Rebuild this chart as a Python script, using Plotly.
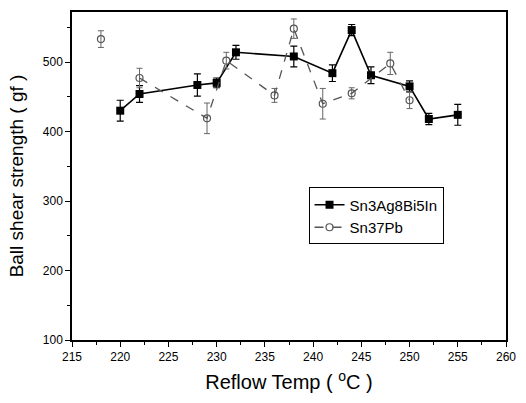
import plotly.graph_objects as go

# Sn3Ag8Bi5In series
sn_temp = [220, 222, 228, 230, 232, 238, 242, 244, 246, 250, 252, 255]
sn_strength = [430, 454, 467, 470, 514, 508, 484, 546, 481, 465, 418, 424]
sn_err = [15, 12, 16, 7, 10, 15, 12, 8, 12, 8, 8, 15]

# Sn37Pb series (None breaks the line after the isolated 218 point)
pb_temp = [218, None, 222, 229, 231, 236, 238, 241, 244, 248, 250]
pb_strength = [533, None, 477, 419, 502, 452, 548, 440, 455, 498, 445]
pb_err = [12, None, 14, 22, 12, 10, 14, 22, 8, 16, 12]

x_ticks = [215, 220, 225, 230, 235, 240, 245, 250, 255, 260]
y_ticks = [100, 200, 300, 400, 500]

FONT = "Arial, Liberation Sans, sans-serif"

fig = go.Figure()

fig.add_trace(go.Scatter(
    x=sn_temp, y=sn_strength, name="Sn3Ag8Bi5In", mode="lines+markers",
    line=dict(color="black", width=1.6),
    marker=dict(symbol="square", size=8, color="black"),
    error_y=dict(type="data", array=sn_err, color="black", thickness=1.2, width=3.5),
))

fig.add_trace(go.Scatter(
    x=pb_temp, y=pb_strength, name="Sn37Pb", mode="lines+markers",
    connectgaps=False,
    line=dict(color="#555555", width=1.3, dash="dash"),
    marker=dict(symbol="circle-open", size=7, color="#555555", line=dict(width=1.2)),
    error_y=dict(type="data", array=[e if e is not None else 0 for e in pb_err],
                 color="#666666", thickness=1, width=3),
))

axis_common = dict(
    showline=True, linecolor="black", linewidth=1.5, mirror=True,
    ticks="outside", ticklen=5, tickwidth=1.2, tickcolor="black",
    showgrid=False, zeroline=False,
    tickfont=dict(family=FONT, size=12, color="black"),
    minor=dict(ticks="outside", ticklen=3, tickwidth=1, tickcolor="black"),
)

fig.update_xaxes(
    range=[215, 260], tickvals=x_ticks, ticktext=[str(v) for v in x_ticks],
    minor_dtick=2.5,
    title=dict(text="Reflow Temp ( <sup>o</sup>C )", font=dict(family=FONT, size=20, color="black"), standoff=12),
    **axis_common,
)
fig.update_yaxes(
    range=[100, 572], tickvals=y_ticks, ticktext=[str(v) for v in y_ticks],
    minor_dtick=50,
    title=dict(text="Ball shear strength ( gf )", font=dict(family=FONT, size=19, color="black"), standoff=14),
    **axis_common,
)

fig.update_layout(
    width=526, height=403,
    margin=dict(l=72, r=15, t=10, b=63),
    paper_bgcolor="white", plot_bgcolor="white",
    font=dict(family=FONT, color="black"),
    legend=dict(
        x=0.545, y=0.465, xanchor="left", yanchor="top",
        bordercolor="black", borderwidth=1, bgcolor="white",
        font=dict(family=FONT, size=15, color="black"),
        itemwidth=30, tracegroupgap=0,
    ),
)

fig.write_html("out.html")
